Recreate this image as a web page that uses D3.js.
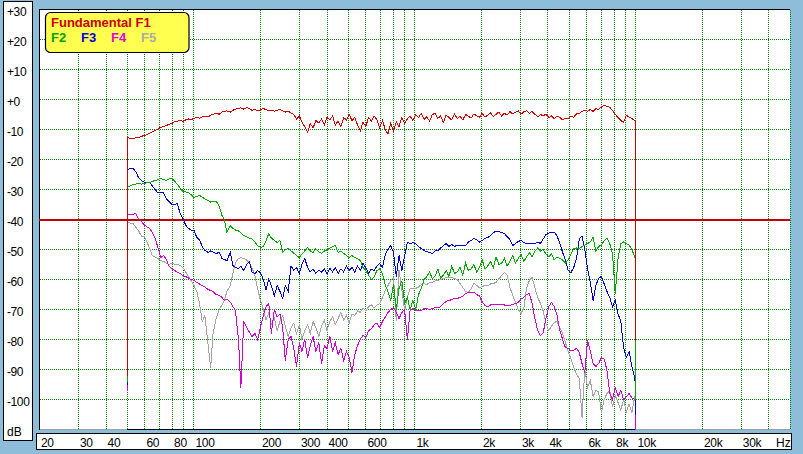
<!DOCTYPE html>
<html><head><meta charset="utf-8">
<script src="https://cdn.jsdelivr.net/npm/d3@7"></script>
<style>
html,body{margin:0;padding:0;background:#8dbdd8;}
svg{display:block;}
text{font-family:"Liberation Sans",Arial,sans-serif;}
</style></head><body>
<svg id="c" width="803" height="454"></svg>
<script>
// ---- data ----
const freqGrid = [
50,51.4,53,54.5,56.1,57.8,59.5,61.2,63,64.8,66.7,68.7,70.7,72.8,74.9,77.1,79.4,81.7,84.1,86.6,89.1,91.7,94.4,97.2,
100,103,106,109,112,116,119,122,126,130,134,137,141,146,150,154,159,163,168,173,178,183,189,194,
200,206,212,218,224,231,238,245,252,259,267,275,283,291,300,308,317,327,336,346,356,367,378,389,
400,412,424,436,449,462,476,490,504,519,534,550,566,582,599,617,635,654,673,692,713,734,755,777,
800,823,847,873,898,924,951,979,1008,1038,1068,1099,1131,1165,1199,1234,1270,1307,1345,1385,1425,1467,1510,1554,
1600,1647,1695,1745,1796,1848,1903,1958,2016,2075,2136,2198,2263,2329,2397,2467,2540,2614,2691,2770,2851,2934,3020,3109,
3200,3294,3390,3490,3592,3697,3805,3917,4032,4150,4271,4397,4525,4658,4795,4935,5080,5229,5382,5540,5702,5869,6041,6218,
6400,6588,6781,6979,7184,7394,7611,7834,8063,8300,8543,8793,9051,9316,9589,9870,10000];

const f1Values = [
-12.7,-13.0,-13.0,-12.8,-12.7,-12.3,-12.0,-11.7,-11.3,-10.8,-10.3,-9.8,-9.3,-9.0,-8.7,-8.3,-8.0,-7.4,-7.2,-7.0,-7.3,-6.8,-6.5,-6.7,
-6.3,-6.0,-6.2,-5.8,-5.5,-5.8,-5.2,-5.0,-4.6,-4.9,-4.2,-4.0,-3.8,-4.2,-3.6,-3.2,-3.0,-2.8,-3.2,-2.7,-3.0,-3.6,-3.3,-3.8,
-3.5,-3.0,-3.4,-3.8,-3.5,-3.9,-3.6,-3.3,-3.8,-4.2,-3.9,-4.5,-5.0,-6.5,-5.5,-7.5,-9.0,-11.0,-8.0,-9.5,-7.0,-7.8,-6.5,-8.5,
-6.0,-6.8,-5.5,-8.5,-7.2,-9.0,-6.0,-6.8,-5.0,-7.0,-6.0,-8.5,-10.5,-7.5,-9.0,-6.0,-7.2,-5.5,-6.8,-9.5,-7.0,-10.0,-11.5,-8.0,
-10.5,-7.5,-9.0,-6.0,-8.0,-6.5,-5.5,-7.0,-5.0,-6.0,-4.6,-6.6,-5.8,-7.2,-5.0,-4.6,-6.3,-5.5,-7.6,-5.2,-6.0,-6.8,-4.8,-6.3,
-5.5,-6.8,-5.0,-5.6,-6.2,-4.8,-5.4,-6.0,-4.6,-5.9,-5.2,-4.5,-5.6,-4.9,-4.2,-5.5,-4.6,-5.2,-4.0,-4.8,-4.3,-3.8,-4.9,-4.1,
-3.7,-4.6,-4.0,-4.9,-5.8,-5.0,-5.4,-4.9,-6.0,-5.5,-6.4,-5.6,-6.0,-6.8,-6.2,-6.5,-5.6,-5.9,-4.8,-4.6,-4.0,-3.5,-3.9,-3.3,
-4.0,-3.1,-3.3,-2.5,-2.0,-2.3,-2.6,-3.7,-5.0,-6.0,-7.0,-7.6,-5.2,-5.9,-6.4,-7.0,-7.3];

const f2Values = [
-29.3,-28.8,-28.3,-28.2,-28.0,-28.2,-28.0,-27.8,-27.7,-27.3,-27.0,-26.7,-26.3,-26.7,-27.0,-26.5,-26.3,-27.2,-28.3,-29.5,-30.7,-30.8,-31.0,-31.8,
-32.7,-32.3,-32.0,-32.5,-33.2,-33.7,-34.2,-34.0,-33.8,-35.5,-38.7,-40.0,-44.3,-42.0,-43.0,-43.5,-43.8,-44.5,-45.3,-45.8,-46.2,-46.5,-47.5,-48.7,
-49.3,-49.0,-47.0,-44.7,-46.2,-47.0,-47.7,-47.0,-51.0,-50.0,-49.7,-50.5,-51.2,-52.0,-52.7,-51.5,-50.5,-49.3,-50.5,-51.0,-49.7,-50.8,-51.3,-50.5,
-50.3,-49.5,-49.0,-48.7,-51.0,-50.5,-51.3,-52.0,-52.7,-52.0,-52.7,-53.0,-53.7,-56.0,-57.0,-58.5,-60.0,-59.0,-57.0,-56.5,-58.0,-62.0,-64.0,-67.0,
-61.5,-70.0,-63.0,-60.5,-68.0,-66.0,-70.0,-67.0,-70.0,-65.0,-63.0,-60.0,-59.0,-57.5,-59.8,-58.8,-56.5,-59.5,-58.5,-57.0,-59.0,-55.5,-58.0,-57.5,
-56.0,-58.5,-54.5,-57.0,-56.5,-55.0,-57.5,-56.0,-53.5,-56.5,-55.5,-54.0,-56.0,-52.5,-55.0,-54.5,-53.0,-55.5,-54.0,-52.0,-54.5,-53.0,-51.5,-54.0,
-52.5,-51.0,-52.5,-50.5,-49.5,-50.5,-50.0,-51.5,-52.5,-51.5,-53.5,-52.5,-53.0,-53.5,-54.5,-53.5,-51.5,-49.7,-49.5,-49.7,-49.0,-48.5,-48.0,-47.5,
-46.0,-50.5,-49.0,-48.5,-47.0,-46.3,-48.0,-51.3,-64.7,-53.0,-48.0,-47.5,-48.0,-48.5,-50.0,-52.5,-53.0];

const f3Values = [
-23.3,-23.0,-23.0,-24.0,-26.0,-27.0,-27.5,-27.7,-27.7,-28.8,-30.0,-31.2,-31.0,-31.0,-33.0,-34.0,-35.0,-35.0,-34.7,-38.0,-39.7,-41.8,-43.0,-43.5,
-43.5,-46.0,-46.8,-49.0,-50.3,-51.0,-50.5,-50.8,-51.3,-51.0,-53.0,-53.3,-53.7,-51.0,-55.3,-56.0,-56.3,-55.5,-57.0,-55.0,-54.0,-57.5,-58.0,-57.0,
-57.7,-60.0,-63.5,-60.0,-62.0,-65.5,-62.0,-64.0,-66.3,-62.0,-64.0,-55.5,-57.0,-56.0,-58.0,-55.0,-53.0,-56.0,-57.5,-56.5,-58.0,-57.0,-57.5,-56.5,
-58.0,-56.3,-57.5,-56.0,-58.0,-56.5,-57.5,-55.5,-57.0,-56.0,-57.5,-55.5,-57.0,-54.7,-56.0,-58.0,-56.5,-57.0,-55.5,-54.7,-56.0,-51.7,-50.0,-48.7,
-51.0,-59.0,-52.0,-57.0,-52.0,-47.7,-48.0,-47.7,-48.0,-49.0,-49.7,-50.3,-50.7,-51.0,-51.3,-50.5,-50.3,-49.5,-48.7,-48.0,-49.0,-48.3,-49.0,-48.5,
-48.7,-48.5,-48.7,-47.5,-47.0,-46.3,-46.7,-47.5,-47.0,-46.3,-46.0,-45.3,-44.3,-44.0,-44.0,-44.3,-44.7,-45.7,-46.7,-48.7,-48.0,-47.3,-47.0,-47.7,
-48.0,-48.0,-48.0,-48.0,-47.5,-48.0,-46.5,-45.0,-44.5,-44.3,-44.3,-45.5,-48.0,-51.0,-53.5,-57.0,-57.7,-56.0,-53.0,-46.5,-45.5,-50.0,-56.5,-61.0,
-67.0,-62.0,-59.5,-59.0,-61.5,-64.0,-66.0,-69.0,-67.0,-71.5,-74.0,-82.7,-86.0,-84.0,-89.0,-92.7,-97.0];

const f4Values = [
-38.0,-38.5,-38.3,-38.0,-39.7,-40.7,-41.7,-42.5,-43.0,-44.3,-46.3,-49.3,-52.7,-52.0,-53.3,-55.5,-56.5,-57.0,-57.5,-58.0,-58.7,-59.0,-59.5,-60.0,
-60.3,-61.0,-61.5,-62.0,-62.5,-63.3,-63.7,-64.0,-65.0,-65.3,-66.0,-67.0,-66.5,-67.5,-69.0,-70.3,-80.0,-96.0,-74.0,-76.0,-77.5,-79.0,-78.0,-80.0,
-76.0,-72.0,-69.0,-68.0,-78.0,-70.0,-72.5,-71.5,-76.0,-87.0,-80.0,-79.0,-83.0,-89.0,-81.0,-84.0,-80.0,-86.0,-82.0,-79.0,-84.0,-81.0,-88.0,-82.0,
-83.0,-79.0,-84.0,-81.0,-85.0,-83.0,-87.0,-84.0,-86.0,-91.0,-85.0,-82.0,-80.0,-78.5,-79.5,-77.0,-76.5,-75.0,-74.5,-76.0,-74.0,-72.5,-71.0,-70.0,
-69.3,-71.0,-73.0,-71.0,-70.0,-80.3,-70.0,-69.7,-70.3,-70.5,-70.3,-69.7,-69.7,-70.0,-69.7,-69.3,-69.5,-69.0,-68.0,-67.3,-67.0,-66.7,-66.3,-66.3,
-66.0,-65.5,-64.7,-64.3,-64.3,-64.3,-65.0,-65.5,-67.5,-68.7,-69.0,-68.5,-68.3,-68.3,-68.3,-68.3,-68.5,-68.7,-68.7,-68.3,-68.0,-67.7,-66.5,-66.0,
-65.0,-64.7,-68.0,-73.0,-77.0,-78.7,-77.7,-73.0,-69.0,-67.7,-69.0,-72.0,-77.0,-80.0,-82.7,-83.0,-83.7,-83.5,-83.0,-84.3,-88.0,-91.0,-80.3,-84.0,
-88.0,-89.0,-88.0,-86.0,-86.5,-90.3,-98.0,-100.0,-96.0,-99.0,-97.0,-100.0,-99.0,-98.0,-99.5,-100.0,-100.0];

const f5Values = [
-41.0,-41.2,-41.3,-42.5,-43.7,-45.5,-45.5,-47.5,-49.5,-52.0,-52.5,-53.0,-53.7,-54.0,-54.5,-55.0,-54.5,-55.0,-55.0,-55.3,-56.0,-57.5,-59.0,-60.5,
-62.0,-64.0,-68.0,-74.0,-72.0,-82.0,-89.5,-78.0,-73.0,-70.0,-68.5,-67.0,-64.0,-62.0,-58.0,-54.5,-53.0,-52.7,-53.0,-53.5,-54.5,-56.0,-59.0,-63.0,
-67.0,-70.0,-73.5,-71.0,-75.0,-73.0,-77.0,-74.0,-72.0,-75.5,-79.0,-76.0,-74.5,-78.0,-75.0,-80.0,-77.0,-75.0,-78.0,-74.0,-76.0,-79.0,-75.5,-73.5,
-77.0,-74.0,-72.5,-75.0,-73.0,-71.0,-73.5,-72.0,-74.5,-71.5,-72.0,-70.5,-71.0,-69.5,-70.5,-69.0,-68.5,-69.5,-68.5,-68.0,-66.0,-63.7,-62.0,-60.3,
-59.3,-73.7,-57.0,-63.7,-70.3,-66.0,-63.0,-63.0,-63.0,-62.5,-61.7,-61.3,-61.7,-61.0,-61.0,-60.5,-60.3,-60.0,-59.7,-59.3,-59.3,-59.3,-59.7,-60.0,
-61.3,-62.7,-64.0,-64.3,-63.0,-61.3,-62.0,-62.7,-62.3,-62.0,-62.0,-61.5,-61.3,-61.0,-59.7,-58.7,-57.7,-58.5,-62.7,-65.3,-67.7,-70.0,-71.3,-69.5,
-63.0,-60.3,-59.3,-62.7,-66.0,-68.0,-70.5,-74.7,-77.0,-75.5,-74.3,-74.0,-76.0,-78.0,-81.0,-84.0,-86.5,-89.3,-91.5,-93.0,-106.0,-90.0,-96.0,-93.7,
-99.0,-97.0,-97.5,-104.5,-100.0,-98.0,-97.0,-102.5,-98.7,-101.0,-103.5,-100.0,-104.0,-101.5,-104.5,-99.0,-103.0];

// level each trace starts from (at 50 Hz) and drops to (at 10 kHz)
const startDb = [-92.3, -94.3, -95.3, -97.0, -90.0];
const endDb   = [-80.5, -100.0, -105.0, -110.0, -110.0];

const seriesNames  = ["F1", "F2", "F3", "F4", "F5"];
const seriesColors = ["#d00000", "#00a800", "#0000d0", "#d000d0", "#a4a4a4"];
const legendColors = ["#cc0000", "#00a000", "#0000dd", "#dd00dd", "#aaaaaa"];

const xTickValues = [20,30,40,60,80,100,200,300,400,600,1000,2000,3000,4000,6000,8000,10000,20000,30000];
const xTickLabels = ["20","30","40","60","80","100","200","300","400","600","1k","2k","3k","4k","6k","8k","10k","20k","30k"];
const gridFreqs = [30,40,50,60,70,80,90,100,200,300,400,500,600,700,800,900,1000,2000,3000,4000,5000,6000,7000,8000,9000,10000,20000,30000,40000,50000];
const yTickValues = [30,20,10,0,-10,-20,-30,-40,-50,-60,-70,-80,-90,-100];
const yGridValues = [20,10,0,-10,-20,-30,-50,-60,-70,-80,-90,-100];
const markerDb = -40;

// ---- chart ----
const svg = d3.select("#c");
const x = d3.scaleLog().domain([20, 50000]).range([39.5, 790.4]);
const y = d3.scaleLinear().domain([-110, 30]).range([429.5, 9.5]);
const pxi = v => Math.floor(x(v));

// side panels
svg.append("rect").attr("x", 3.5).attr("y", 1.5).attr("width", 29).attr("height", 439)
  .attr("fill", "#fff").attr("stroke", "#000");
svg.append("rect").attr("x", 36.5).attr("y", 433.5).attr("width", 755).attr("height", 16)
  .attr("fill", "#fff").attr("stroke", "#000");

// plot area
svg.append("rect").attr("x", 39).attr("y", 9).attr("width", 751).attr("height", 420).attr("fill", "#fff");

// dotted grid: one pixel on, one pixel off
let dots = "";
gridFreqs.forEach(f => {
  const c = pxi(f);
  for (let r = 10; r < 429; r += 2) dots += "M" + c + "," + r + "h1v1h-1z";
});
yGridValues.forEach(v => {
  const r = Math.floor(y(v));
  for (let c = 40; c < 790; c += 2) dots += "M" + c + "," + r + "h1v1h-1z";
});
svg.append("path").attr("d", dots).attr("fill", "#008000").attr("shape-rendering", "crispEdges");

// borders
const bord = svg.append("g").attr("shape-rendering", "crispEdges").attr("fill", "none");
bord.append("line").attr("x1", 39).attr("x2", 790).attr("y1", 9.5).attr("y2", 9.5).attr("stroke", "#000");
bord.append("line").attr("x1", 39.5).attr("x2", 39.5).attr("y1", 9).attr("y2", 430).attr("stroke", "#000");
bord.append("line").attr("x1", 40).attr("x2", 790).attr("y1", 429.5).attr("y2", 429.5).attr("stroke", "#a0a0a0");
bord.append("line").attr("x1", pxi(50)).attr("x2", pxi(10000) + 1).attr("y1", 429.5).attr("y2", 429.5).attr("stroke", "#000");

// -40 dB marker line (2 px)
svg.append("rect").attr("x", 39).attr("y", Math.floor(y(markerDb))).attr("width", 751).attr("height", 2)
  .attr("fill", "#c00000").attr("shape-rendering", "crispEdges");

// traces
const allValues = [f1Values, f2Values, f3Values, f4Values, f5Values];
const freqAll = [freqGrid[0]].concat(freqGrid, [freqGrid[freqGrid.length - 1]]);
const series = allValues.map((vals, k) => {
  const v = [startDb[k]].concat(vals, [endDb[k]]);
  return { name: seriesNames[k], color: seriesColors[k], pts: freqAll.map((f, i) => [f, v[i]]) };
});
const line = d3.line().x(d => x(d[0])).y(d => y(d[1]));
svg.append("g").selectAll("path").data(series.slice().reverse()).join("path")
  .attr("d", d => line(d.pts)).attr("fill", "none").attr("stroke", d => d.color)
  .attr("stroke-width", 1).attr("shape-rendering", "crispEdges");

// x axis labels
const xAxis = d3.axisBottom(x).tickValues(xTickValues).tickFormat((d, i) => xTickLabels[i]).tickSize(0);
const gx = svg.append("g").call(xAxis);
gx.select(".domain").remove();
gx.selectAll("text").attr("y", 447).attr("dy", null).attr("x", 1).attr("text-anchor", "start")
  .attr("fill", "#000").style("font-size", "12px").style("letter-spacing", "-0.3px");
svg.append("text").attr("x", 776).attr("y", 447).text("Hz").style("font-size", "12px");

// y axis labels
const yAxis = d3.axisLeft(y).tickValues(yTickValues).tickFormat(d => d >= 0 ? "+" + d : String(d)).tickSize(0);
const gy = svg.append("g").call(yAxis);
gy.select(".domain").remove();
gy.selectAll("text").attr("x", 7).attr("dy", null).attr("y", 6).attr("text-anchor", "start")
  .attr("fill", "#000").style("font-size", "12px").style("letter-spacing", "-0.4px");
svg.append("text").attr("x", 7).attr("y", 435.5).text("dB").style("font-size", "12px");

// legend
svg.append("rect").attr("x", 45.5).attr("y", 12.5).attr("width", 143.5).attr("height", 40).attr("rx", 5)
  .attr("fill", "#ffff50").attr("stroke", "#000").attr("stroke-width", 1.2);
svg.append("text").attr("x", 51).attr("y", 27).text("Fundamental " + seriesNames[0])
  .attr("fill", legendColors[0]).style("font-size", "13px").style("font-weight", "bold");
seriesNames.slice(1).forEach((n, i) => {
  svg.append("text").attr("x", 51 + i * 30).attr("y", 42).text(n)
    .attr("fill", legendColors[i + 1]).style("font-size", "13px").style("font-weight", "bold");
});
</script>
</body></html>
